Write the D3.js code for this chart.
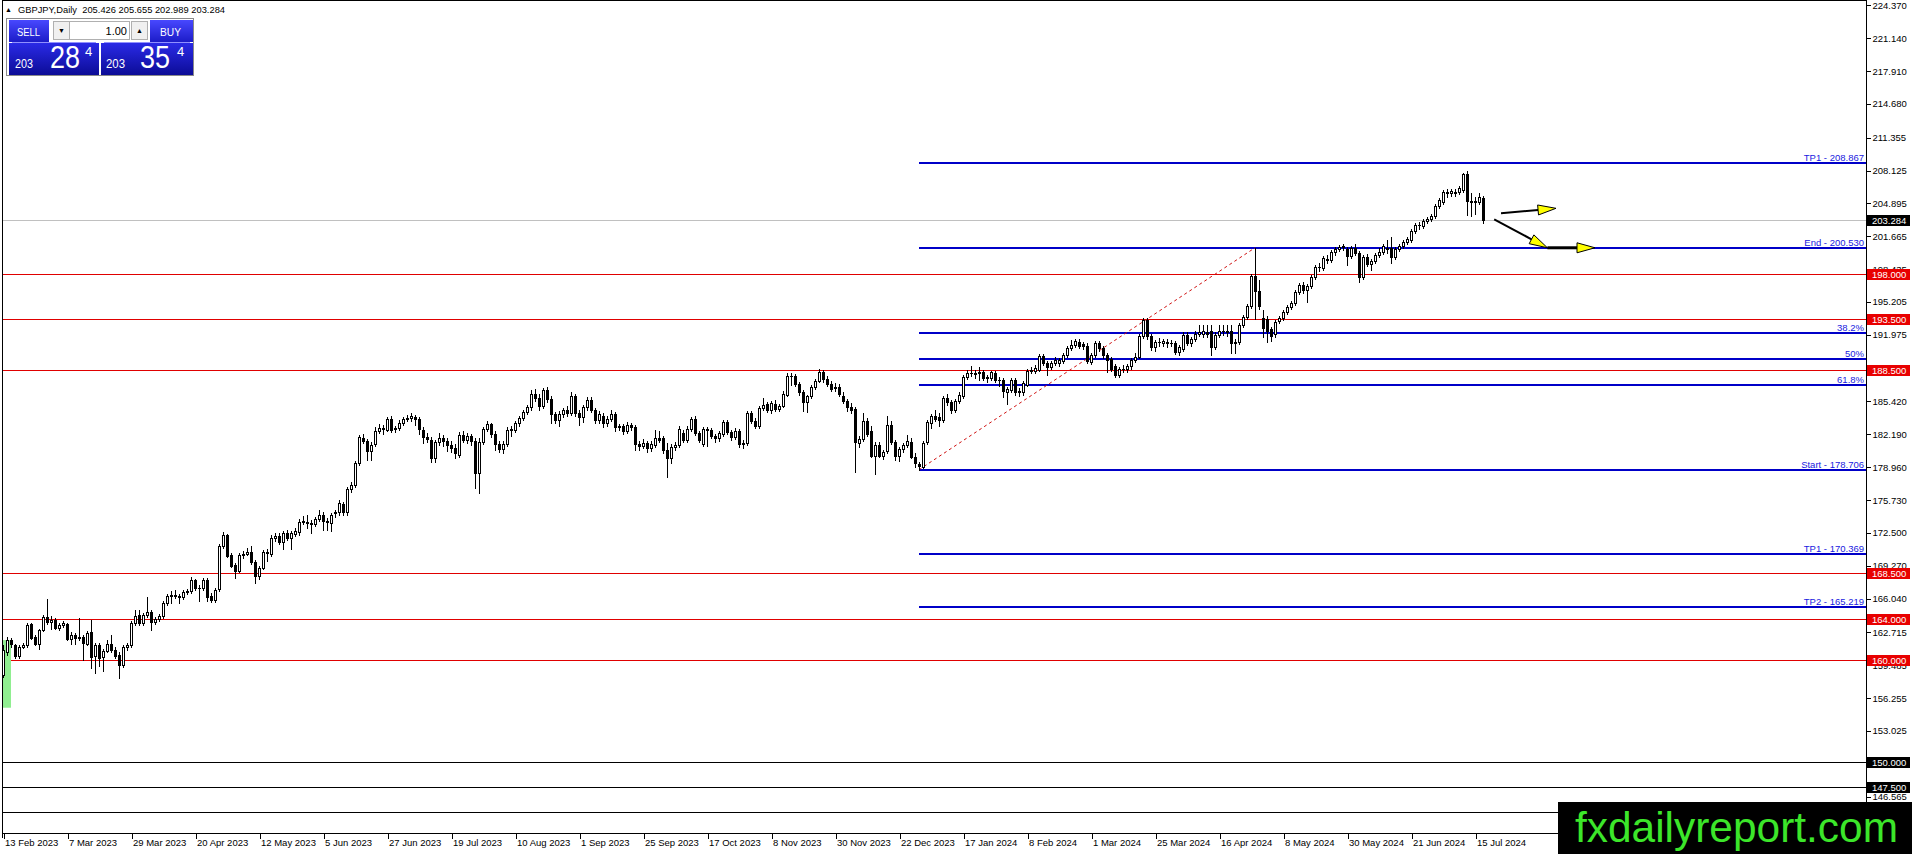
<!DOCTYPE html>
<html><head><meta charset="utf-8">
<script src="https://cdn.jsdelivr.net/npm/d3@7/dist/d3.min.js"></script>
<style>html,body{margin:0;padding:0;background:#fff;overflow:hidden}
svg{display:block;font-family:"Liberation Sans",Arial,sans-serif}</style>
</head><body><svg id="c" width="1912" height="854"></svg>
<script>
// ---------------- DATA ----------------
const symbolTitle = "GBPJPY,Daily\u00a0\u00a0205.426 205.655 202.989 203.284";
const opens = [
158.5,160.8,162.0,161.5,160.4,161.3,161.5,163.5,162.3,161.6,
162.9,164.2,163.7,163.9,163.1,163.4,163.5,162.1,162.5,162.2,
162.3,161.6,162.7,160.4,161.5,160.3,160.9,161.6,161.0,160.5,
159.5,161.3,161.5,163.6,164.4,163.6,164.4,164.7,163.7,164.0,
164.3,165.6,166.3,166.4,166.3,166.2,166.7,166.8,167.9,167.1,
167.1,167.9,166.3,165.9,167.0,171.2,172.3,170.3,169.3,168.7,
170.3,170.4,170.6,169.6,168.3,169.0,170.6,170.4,172.0,172.2,
171.6,172.5,172.0,172.4,172.6,173.6,173.6,173.5,173.4,173.9,
174.3,173.7,173.5,174.4,174.5,175.3,174.5,176.8,177.2,179.4,
181.8,181.5,180.5,181.2,182.5,182.8,182.6,183.7,182.7,182.8,
183.3,183.7,183.8,183.9,183.7,182.6,181.9,181.6,179.9,181.4,
181.8,181.5,181.1,180.8,180.2,182.1,181.6,182.0,181.5,178.4,
181.4,182.7,183.2,182.2,181.2,180.7,181.2,182.6,182.6,183.3,
183.8,184.4,184.9,186.2,185.8,185.0,186.5,185.7,184.2,183.6,
184.2,184.6,184.3,186.0,184.3,183.9,184.9,185.6,184.6,183.6,
184.0,183.3,183.7,184.2,182.9,183.0,182.5,183.1,182.9,181.2,
181.0,181.3,180.8,181.1,181.8,181.8,180.6,179.9,180.9,181.1,
182.3,181.6,182.7,183.7,182.3,181.2,182.7,182.6,182.0,181.8,
182.2,183.4,182.4,181.9,182.5,181.2,181.3,184.3,183.5,183.0,
184.8,185.2,184.6,185.2,184.7,185.0,186.1,187.9,187.9,187.1,
186.3,185.4,186.0,186.8,187.4,188.3,187.6,187.1,186.7,186.8,
186.0,185.5,184.9,184.7,181.3,181.7,183.5,182.5,180.1,181.1,
180.1,180.5,183.1,181.4,180.1,180.7,181.1,181.4,180.0,179.3,
179.0,181.4,183.3,184.0,183.9,183.6,185.8,185.4,184.6,185.5,
186.0,187.8,188.2,188.2,188.2,188.3,187.7,187.7,188.2,187.5,
187.5,186.3,186.5,187.5,186.3,186.3,187.0,188.4,188.4,188.5,
189.9,189.2,188.8,189.2,189.2,189.4,190.0,190.7,191.0,191.3,
191.1,190.9,189.3,190.0,191.2,190.7,190.0,189.6,188.9,188.0,
188.6,188.6,188.9,189.5,189.8,191.9,193.4,191.9,190.8,191.3,
191.2,191.3,191.2,191.2,190.3,190.6,192.0,191.2,191.6,192.1,
192.1,192.2,192.3,190.8,192.0,192.3,192.3,192.3,191.2,191.3,
192.9,193.7,194.8,197.8,196.3,193.6,193.5,192.5,192.1,193.3,
193.6,194.2,194.7,195.1,196.2,196.9,196.4,196.8,197.7,198.6,
198.5,199.4,199.3,200.1,200.4,200.6,200.4,199.7,200.5,200.0,
197.7,199.6,198.9,199.2,199.8,200.1,200.5,200.5,199.6,200.4,
200.7,201.1,201.3,202.2,202.8,202.7,203.2,203.4,203.7,204.6,
205.0,206.0,205.9,205.9,206.0,206.2,207.8,205.1,205.0,205.0,
205.426];
const highs = [
161.5,162.3,162.2,161.6,161.5,161.7,163.6,163.6,162.5,163.0,
164.4,166.0,164.3,164.1,163.6,163.8,163.6,162.7,162.6,164.1,
162.5,162.8,163.9,161.7,161.7,161.1,162.0,162.5,161.3,160.8,
161.5,161.7,163.8,164.9,164.9,164.6,166.2,164.9,164.2,164.5,
165.8,166.5,166.8,166.9,166.5,166.9,167.0,168.2,168.0,167.4,
168.1,168.1,166.6,167.1,171.4,172.6,172.4,170.5,169.5,170.5,
170.7,171.0,171.2,169.8,169.2,170.8,170.9,172.3,172.5,172.5,
172.7,172.8,172.7,173.0,173.9,174.2,174.3,173.8,174.1,174.7,
174.5,174.0,174.4,174.7,175.7,175.5,177.0,177.5,179.6,182.1,
182.2,181.7,181.4,182.9,183.2,183.1,183.9,184.0,183.0,183.6,
183.9,184.1,184.3,184.1,183.9,182.9,182.3,181.9,181.6,182.3,
182.1,181.8,181.5,181.2,182.4,182.5,182.3,182.2,181.8,181.8,
182.9,183.5,183.3,182.5,181.5,181.5,182.9,183.0,183.5,184.0,
184.6,185.1,186.5,186.6,186.2,186.7,186.8,186.0,184.4,184.5,
184.8,185.0,186.3,186.2,184.6,185.1,185.9,185.9,184.8,184.5,
184.3,184.0,184.6,184.4,183.2,183.2,183.4,183.3,183.1,181.5,
181.7,181.5,181.5,182.6,182.5,182.0,181.3,181.2,181.4,183.0,
182.6,183.0,183.9,184.0,182.5,182.9,182.9,182.8,182.2,182.5,
183.6,183.6,182.6,182.8,182.7,181.6,184.5,184.5,183.8,185.0,
185.8,185.4,185.5,185.6,185.2,186.4,188.2,188.2,188.1,187.3,
186.5,186.1,187.0,187.6,188.6,188.5,187.9,187.4,187.2,187.1,
186.3,185.7,185.3,184.9,182.0,184.3,183.8,183.0,181.4,181.4,
180.6,184.0,183.5,181.6,180.9,181.3,182.1,181.8,180.3,179.5,
181.5,183.6,184.2,184.6,184.3,186.0,186.2,185.6,185.7,186.3,
188.0,188.5,188.9,188.5,188.8,188.5,188.0,188.4,188.4,187.8,
187.7,186.8,187.7,187.7,186.7,187.4,188.6,188.8,189.0,190.1,
190.1,189.4,189.4,189.8,189.7,190.2,190.9,191.5,191.6,191.6,
191.3,191.2,190.2,191.4,191.4,190.9,190.2,189.8,189.1,188.8,
189.0,189.1,189.7,190.2,192.1,193.6,193.6,192.1,191.5,191.7,
191.6,191.6,191.5,191.4,191.0,192.2,192.2,191.8,192.3,192.9,
192.9,192.9,192.9,192.2,192.9,192.9,192.9,192.9,191.6,193.1,
193.9,195.0,198.0,200.53,197.4,194.4,193.8,192.7,193.4,193.8,
194.4,194.9,195.3,196.4,197.1,197.2,197.0,197.9,198.8,199.0,
199.7,199.8,200.3,200.6,200.8,200.9,200.6,200.7,200.9,200.2,
199.8,199.9,199.4,200.0,200.5,200.9,201.3,201.6,200.6,200.9,
201.3,201.6,202.4,203.0,203.1,203.4,203.6,203.9,204.8,205.4,
206.2,206.3,206.3,206.3,206.6,207.9,208.08,205.9,205.5,205.9,
205.655];
const lows = [
158.3,160.5,161.3,160.2,160.2,161.2,161.3,162.1,161.5,161.1,
162.8,163.5,163.0,163.0,162.9,163.2,162.0,161.6,161.6,162.0,
160.0,161.5,159.2,158.7,159.4,158.9,160.8,160.8,160.2,158.2,
159.3,161.0,161.3,163.4,163.4,163.4,164.2,162.9,163.5,163.8,
164.1,165.4,165.6,166.1,165.6,166.0,166.5,166.6,166.9,165.8,
166.9,165.8,165.7,165.7,166.8,171.0,170.1,169.1,168.1,168.6,
170.0,170.3,169.4,167.6,168.0,168.9,169.7,170.2,171.7,171.4,
170.9,171.8,170.9,172.2,172.3,173.4,173.0,172.5,173.2,173.7,
172.8,172.8,172.7,174.1,174.3,174.3,174.3,176.5,177.0,179.2,
181.3,179.7,179.7,181.0,182.3,182.2,182.5,182.4,182.4,182.6,
183.1,183.5,183.5,183.1,182.2,181.3,181.4,179.5,179.5,181.1,
181.0,180.5,180.4,179.9,180.0,181.4,181.3,181.1,176.9,176.4,
181.2,182.5,181.9,180.6,180.4,180.3,181.0,182.0,182.4,183.0,
183.6,184.2,184.6,185.5,184.6,184.8,185.4,183.3,183.3,183.0,
183.9,184.0,184.1,184.0,183.1,183.4,184.6,184.4,183.3,183.3,
182.9,183.0,183.5,182.5,182.6,182.2,182.3,182.6,180.6,180.6,
180.8,180.4,180.5,180.9,181.4,180.3,178.0,179.4,180.6,180.9,
181.4,181.4,182.5,182.1,181.4,181.0,181.0,181.8,181.4,181.5,
182.0,182.2,181.6,181.7,180.9,180.8,181.1,183.3,182.8,182.8,
184.6,184.4,184.3,184.5,184.5,184.9,186.0,187.0,186.9,186.1,
184.5,184.4,185.8,186.6,187.3,187.3,186.9,186.4,186.4,186.0,
185.3,184.5,184.3,178.5,180.9,181.5,182.0,180.0,178.3,180.0,
179.8,180.3,181.2,179.7,179.6,180.4,180.9,179.9,179.0,178.706,
178.9,181.2,182.8,183.5,183.0,183.4,185.1,184.3,184.4,185.3,
185.8,187.6,187.9,187.7,187.5,187.5,187.3,187.5,187.3,186.9,
185.9,185.2,186.3,186.1,186.0,186.1,186.9,188.2,188.2,188.4,
189.0,188.0,188.6,189.0,188.9,189.2,189.8,190.5,190.8,190.7,
190.6,189.2,189.1,189.8,190.4,189.7,188.3,188.4,187.8,187.8,
188.3,188.3,188.6,189.3,189.7,191.7,191.6,190.5,190.4,190.9,
190.9,190.8,190.9,190.1,190.0,190.4,191.0,190.9,191.4,191.9,
191.8,191.8,190.0,190.6,191.8,192.0,191.9,190.2,190.2,191.1,
192.7,193.5,194.6,193.5,194.5,191.8,191.3,191.4,191.8,193.1,
193.4,194.0,194.5,194.9,196.0,196.1,195.2,196.6,197.5,198.2,
198.3,199.0,199.1,199.8,200.2,200.3,198.8,199.5,199.8,197.2,
197.5,198.7,198.3,199.0,199.6,199.9,200.0,199.0,199.4,200.2,
200.5,200.9,201.1,202.0,202.4,202.5,203.0,203.2,203.5,204.4,
204.8,205.5,205.6,205.6,205.8,206.0,203.8,203.7,203.9,204.8,
202.989];
const closes = [
161.0,162.0,161.6,160.4,161.3,161.5,163.4,162.2,161.6,162.9,
164.2,163.7,163.9,163.1,163.4,163.6,162.1,162.5,162.2,162.3,
161.7,162.6,160.3,161.5,160.2,160.9,161.6,161.0,160.4,159.5,
161.3,161.5,163.6,164.3,163.6,164.4,164.7,163.7,164.0,164.3,
165.6,166.3,166.4,166.3,166.2,166.7,166.8,167.9,167.1,167.1,
167.9,166.2,165.9,166.9,171.2,172.3,170.2,169.2,168.7,170.3,
170.4,170.6,169.6,168.3,169.0,170.6,170.5,172.0,172.2,171.6,
172.5,172.0,172.5,172.7,173.6,173.7,173.5,173.4,173.9,174.3,
173.7,173.6,174.3,174.5,175.4,174.5,176.8,177.2,179.4,181.9,
181.5,180.5,181.1,182.5,182.8,182.7,183.7,182.6,182.8,183.3,
183.7,183.8,184.0,183.7,182.7,181.9,181.7,179.9,181.4,181.8,
181.5,181.1,180.8,180.3,182.1,181.6,182.0,181.5,178.4,181.4,
182.7,183.2,182.2,181.2,180.7,181.2,182.6,182.7,183.3,183.8,
184.4,184.9,186.2,185.8,185.0,186.5,185.7,184.2,183.6,184.2,
184.6,184.3,186.0,184.3,183.9,184.9,185.6,184.6,183.6,184.2,
183.3,183.7,184.2,182.9,183.0,182.5,183.1,182.9,181.2,181.0,
181.3,180.8,181.2,181.8,181.6,180.6,179.9,180.9,181.1,182.7,
181.6,182.7,183.7,182.3,181.6,182.7,182.6,182.0,181.8,182.3,
183.4,182.4,181.9,182.5,181.2,181.3,184.3,183.5,183.0,184.8,
185.1,184.6,185.3,184.7,185.0,186.2,187.9,187.9,187.1,186.3,
185.4,186.0,186.8,187.4,188.3,187.6,187.1,186.6,186.8,186.2,
185.5,184.9,184.6,181.4,181.7,183.5,182.2,180.1,181.1,180.1,
180.4,183.1,181.4,180.1,180.7,181.1,181.5,180.0,179.4,179.1,
181.3,183.4,184.0,183.7,183.6,185.8,185.4,184.6,185.5,186.1,
187.8,188.2,188.2,188.1,188.3,187.7,187.8,188.3,187.5,187.5,
186.4,186.6,187.5,186.3,186.4,187.2,188.4,188.5,188.7,189.9,
189.2,188.8,189.2,189.5,189.5,190.0,190.7,191.0,191.4,190.9,
190.9,189.4,190.0,191.2,190.7,190.0,189.5,188.6,188.0,188.6,
188.6,188.9,189.5,189.8,191.9,193.4,191.9,190.8,191.3,191.3,
191.4,191.2,191.2,190.3,190.8,192.0,191.2,191.6,192.1,192.2,
192.3,192.1,190.8,192.0,192.3,192.3,192.2,191.2,191.3,192.9,
193.7,194.8,197.8,196.3,194.8,192.6,192.3,191.9,193.2,193.6,
194.2,194.7,195.1,196.2,196.9,196.4,196.8,197.7,198.6,198.6,
199.5,199.3,200.1,200.4,200.6,200.7,199.7,200.5,200.0,197.7,
199.6,198.9,199.2,199.8,200.1,200.7,200.4,199.6,200.4,200.7,
201.1,201.4,202.2,202.8,202.8,203.2,203.4,203.7,204.6,205.2,
206.0,205.9,206.1,206.0,206.4,207.8,205.1,205.0,205.1,205.5,
203.284];

const dateLabels = ["13 Feb 2023","7 Mar 2023","29 Mar 2023","20 Apr 2023","12 May 2023","5 Jun 2023",
"27 Jun 2023","19 Jul 2023","10 Aug 2023","1 Sep 2023","25 Sep 2023","17 Oct 2023","8 Nov 2023",
"30 Nov 2023","22 Dec 2023","17 Jan 2024","8 Feb 2024","1 Mar 2024","25 Mar 2024","16 Apr 2024",
"8 May 2024","30 May 2024","21 Jun 2024","15 Jul 2024"];
const dateLabelStep = 16; // bars between date labels
const priceTicks = [224.370,221.140,217.910,214.680,211.355,208.125,204.895,201.665,198.435,195.205,
191.975,188.745,185.420,182.190,178.960,175.730,172.500,169.270,166.040,162.715,159.485,156.255,
153.025,149.795,146.565];

const redLevels = [198.0, 193.5, 188.5, 168.5, 164.0, 160.0];
const blackLevels = [150.0, 147.5, 145.0];
const currentPrice = 203.284;
const fibValues = [208.867, 200.530, 192.193, 189.618, 187.043, 178.706, 170.369, 165.219];
const fibLabels = ["TP1 - 208.867","End - 200.530","38.2%","50%","61.8%","Start - 178.706","TP1 - 170.369","TP2 - 165.219"];
const fibStartBar = 229, fibEndBar = 313;
const greenBar = {from:0, to:2, hi:161.95, lo:155.3};
// arrows in (bar, price) coordinates
const arrowUp = [[374.5,203.92],[388.25,204.41]];
const arrowDownA = [[372.8,203.33],[386.1,200.53]];
const arrowDownB = [[386.1,200.53],[398.0,200.53]];

// --------------- CHART ----------------
const svg = d3.select("#c");
const AX = 1866, BOT = 833;
const x = d3.scaleLinear().domain([0,1]).range([3,7]);
const y = d3.scaleLinear().domain([142.98,224.70]).range([833,2]);
const ry = v => Math.round(y(v));

const defs = svg.append("defs");
function grad(id, c1, c2){
  const g = defs.append("linearGradient").attr("id",id).attr("x1",0).attr("y1",0).attr("x2",0).attr("y2",1);
  g.append("stop").attr("offset","0%").attr("stop-color",c1);
  g.append("stop").attr("offset","100%").attr("stop-color",c2);
}
grad("gBtn","#4848ff","#1c1cc8");
grad("gPrice","#2a2ae6","#0c0c96");

svg.append("rect").attr("width",1912).attr("height",854).attr("fill","#fff");

const lines = svg.append("g").attr("shape-rendering","crispEdges");
lines.append("line").attr("x1",2).attr("x2",AX).attr("y1",ry(currentPrice)+0.5).attr("y2",ry(currentPrice)+0.5)
  .attr("stroke","#c0c0c0");
lines.selectAll(".red").data(redLevels).join("line")
  .attr("x1",2).attr("x2",AX).attr("y1",d=>ry(d)+0.5).attr("y2",d=>ry(d)+0.5).attr("stroke","#e00000");
lines.selectAll(".blk").data(blackLevels).join("line")
  .attr("x1",2).attr("x2",AX).attr("y1",d=>ry(d)+0.5).attr("y2",d=>ry(d)+0.5).attr("stroke","#000");
lines.selectAll(".fib").data(fibValues).join("line")
  .attr("x1",x(fibStartBar)).attr("x2",AX).attr("y1",d=>ry(d)).attr("y2",d=>ry(d))
  .attr("stroke","#0000c8").attr("stroke-width",2);

svg.append("line").attr("x1",x(fibStartBar)).attr("y1",y(fibValues[5]))
  .attr("x2",x(fibEndBar)).attr("y2",y(fibValues[1]))
  .attr("stroke","#d01010").attr("stroke-width",1).attr("stroke-dasharray","3,3");

svg.append("rect").attr("x",x(greenBar.from)).attr("width",x(greenBar.to)-x(greenBar.from))
  .attr("y",y(greenBar.hi)).attr("height",y(greenBar.lo)-y(greenBar.hi)).attr("fill","#90ee90");

const bars = d3.range(closes.length).map(i=>({i,o:opens[i],h:highs[i],l:lows[i],c:closes[i]}));
const cg = svg.append("g").attr("shape-rendering","crispEdges");
bars.forEach(b=>{
  const cx = Math.round(x(b.i));
  cg.append("rect").attr("x",cx).attr("width",1).attr("y",ry(b.h)).attr("height",Math.max(1,ry(b.l)-ry(b.h)+1)).attr("fill","#000");
  const top = ry(Math.max(b.o,b.c)), bot = ry(Math.min(b.o,b.c));
  const hgt = Math.max(0,bot-top);
  cg.append("rect").attr("x",cx-1).attr("width",3).attr("y",top).attr("height",hgt+1).attr("fill","#000");
  if(b.c>b.o && hgt>=2){
    cg.append("rect").attr("x",cx).attr("width",1).attr("y",top+1).attr("height",hgt-1).attr("fill","#fff");
  }
});

function arrow(seg, width, head){
  const p0=[x(seg[0][0]),y(seg[0][1])], p1=[x(seg[1][0]),y(seg[1][1])];
  const dx=p1[0]-p0[0], dy=p1[1]-p0[1], L=Math.hypot(dx,dy), ux=dx/L, uy=dy/L;
  const hl=18, hw=5;
  const bx=p1[0]-ux*hl, by=p1[1]-uy*hl;
  svg.append("line").attr("x1",p0[0]).attr("y1",p0[1]).attr("x2",head?bx:p1[0]).attr("y2",head?by:p1[1])
    .attr("stroke","#000").attr("stroke-width",width);
  if(head){
    svg.append("path").attr("d",`M${p1[0]},${p1[1]}L${bx-uy*hw},${by+ux*hw}L${bx+uy*hw},${by-ux*hw}Z`)
      .attr("fill","#ffff00").attr("stroke","#000").attr("stroke-width",1);
  }
}
arrow(arrowUp,2,true);
arrow(arrowDownA,2,true);
arrow(arrowDownB,3,true);

svg.selectAll(".fibt").data(fibValues).join("text")
  .attr("x",AX-2).attr("y",d=>ry(d)-2.5).attr("text-anchor","end")
  .attr("font-size","9.5px").attr("fill","#2020e0").text((d,i)=>fibLabels[i]);

const fr = svg.append("g").attr("shape-rendering","crispEdges").attr("stroke","#000");
fr.append("line").attr("x1",2.5).attr("x2",2.5).attr("y1",0).attr("y2",BOT+5);
fr.append("line").attr("x1",2).attr("x2",AX).attr("y1",0.5).attr("y2",0.5);
fr.append("line").attr("x1",2).attr("x2",AX).attr("y1",BOT+0.5).attr("y2",BOT+0.5);
fr.append("line").attr("x1",AX+0.5).attr("x2",AX+0.5).attr("y1",0).attr("y2",854);

const ya = svg.append("g").attr("transform",`translate(${AX+0.5},0)`)
  .call(d3.axisRight(y).tickValues(priceTicks).tickSize(4).tickPadding(2).tickFormat(d3.format(".3f")));
ya.select(".domain").remove();
ya.selectAll("line").attr("shape-rendering","crispEdges");
ya.selectAll("text").attr("font-size","9.5px").attr("font-family","Liberation Sans, Arial, sans-serif").attr("fill","#000");

const dateIdx = dateLabels.map((d,i)=>i*dateLabelStep);
const xa = svg.append("g").attr("transform",`translate(0.5,${BOT+0.5})`)
  .call(d3.axisBottom(x).tickValues(dateIdx).tickSize(5).tickPadding(1).tickFormat((d,i)=>dateLabels[i]));
xa.select(".domain").remove();
xa.selectAll("line").attr("shape-rendering","crispEdges");
xa.selectAll("text").attr("text-anchor","start").attr("x",1).attr("font-size","9.5px")
  .attr("font-family","Liberation Sans, Arial, sans-serif").attr("fill","#000");

const boxes = redLevels.map(v=>({v,c:"#e80000"}))
  .concat(blackLevels.map(v=>({v,c:"#000"})))
  .concat([{v:currentPrice,c:"#000"}]);
const bg = svg.append("g");
bg.selectAll("rect").data(boxes).join("rect").attr("x",AX+1).attr("y",d=>ry(d.v)-5).attr("width",43).attr("height",11)
  .attr("fill",d=>d.c).attr("shape-rendering","crispEdges");
bg.selectAll("text").data(boxes).join("text").attr("x",AX+6).attr("y",d=>ry(d.v)+4)
  .attr("font-size","9.5px").attr("fill","#fff").text(d=>d3.format(".3f")(d.v));

svg.append("text").attr("x",5).attr("y",12).attr("font-size","7px").attr("fill","#000").text("▲");
svg.append("text").attr("x",18).attr("y",12.5).attr("font-size","9.3px").attr("fill","#000")
  .attr("textLength",207).attr("lengthAdjust","spacing").text(symbolTitle);

const pn = svg.append("g");
pn.append("rect").attr("x",6.5).attr("y",18.5).attr("width",187).attr("height",57).attr("fill","#fff").attr("stroke","#8a8a8a");
pn.append("rect").attr("x",9).attr("y",20).attr("width",40).attr("height",22).attr("fill","url(#gBtn)");
pn.append("rect").attr("x",150).attr("y",20).attr("width",43).attr("height",22).attr("fill","url(#gBtn)");
pn.append("rect").attr("x",53.5).attr("y",21.5).attr("width",16).attr("height",18).attr("fill","#f0f0f0").attr("stroke","#b0b0b0");
pn.append("rect").attr("x",69.5).attr("y",21.5).attr("width",60).attr("height",18).attr("fill","#fff").attr("stroke","#b0b0b0");
pn.append("rect").attr("x",131.5).attr("y",21.5).attr("width",16).attr("height",18).attr("fill","#f0f0f0").attr("stroke","#b0b0b0");
pn.append("text").attr("x",61.5).attr("y",33).attr("text-anchor","middle").attr("font-size","7px").text("▼");
pn.append("text").attr("x",139.5).attr("y",33).attr("text-anchor","middle").attr("font-size","7px").text("▲");
pn.append("text").attr("x",127).attr("y",35).attr("text-anchor","end").attr("font-size","11px").attr("fill","#000").text("1.00");
pn.append("rect").attr("x",9).attr("y",43).attr("width",90).attr("height",32).attr("fill","url(#gPrice)");
pn.append("rect").attr("x",101).attr("y",43).attr("width",92).attr("height",32).attr("fill","url(#gPrice)");
pn.append("line").attr("x1",12).attr("x2",96).attr("y1",42.5).attr("y2",42.5).attr("stroke","#9090ff");
pn.append("line").attr("x1",104).attr("x2",190).attr("y1",42.5).attr("y2",42.5).attr("stroke","#9090ff");
const wt = (t,xx,yy,fs,tl,anchor)=>{const e=pn.append("text").attr("x",xx).attr("y",yy).attr("font-size",fs+"px").attr("fill","#fff").text(t);
  if(tl) e.attr("textLength",tl).attr("lengthAdjust","spacingAndGlyphs"); if(anchor) e.attr("text-anchor",anchor); return e;};
wt("SELL",17,36,11,23);
wt("BUY",160,36,11,21);
wt("203",15,68,12,18);
wt("28",50,68,32,30);
wt("4",85,56,13);
wt("203",106,68,12,19);
wt("35",140,68,32,30);
wt("4",177,56,13);

svg.append("rect").attr("x",1558).attr("y",802).attr("width",354).attr("height",52).attr("fill","#000");
svg.append("text").attr("x",1575).attr("y",842).attr("font-size","42px").attr("fill","#3ce62a")
  .attr("font-family","Liberation Sans, Arial, sans-serif")
  .attr("textLength",323).attr("lengthAdjust","spacingAndGlyphs").text("fxdailyreport.com");
</script></body></html>
